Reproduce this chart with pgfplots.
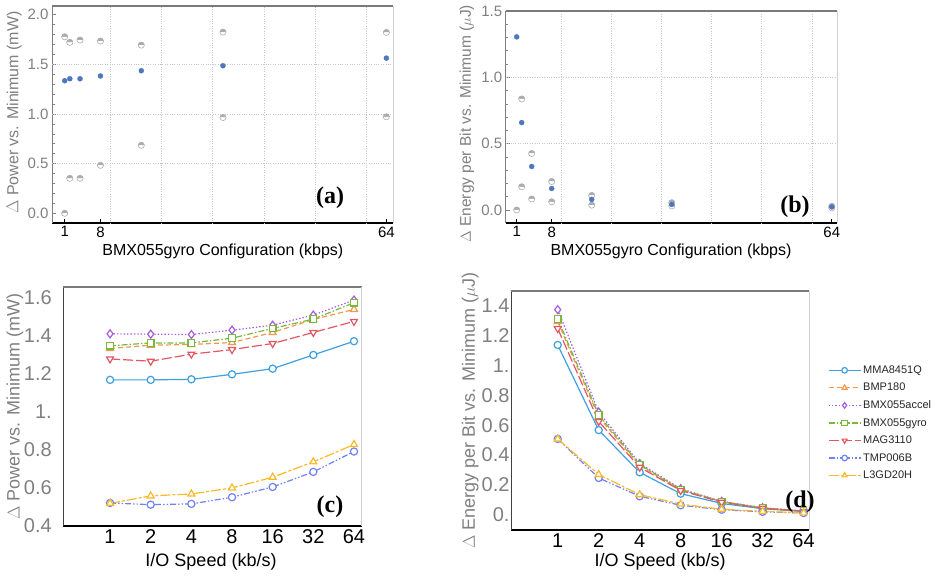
\documentclass[border=0pt]{standalone}
\usepackage{pgfplots}
\pgfplotsset{compat=1.18}
\usepackage{pgfplotstable}
\usepackage{fontspec}
\setmainfont{Liberation Sans}
\newfontfamily\tnr{Liberation Serif}
\usetikzlibrary{plotmarks}

\definecolor{cA}{RGB}{62,160,222}
\definecolor{cB}{RGB}{242,152,78}
\definecolor{cC}{RGB}{168,92,224}
\definecolor{cD}{RGB}{122,184,58}
\definecolor{cE}{RGB}{226,88,98}
\definecolor{cF}{RGB}{112,128,245}
\definecolor{cG}{RGB}{250,186,40}
\definecolor{dotblue}{RGB}{78,120,190}
\definecolor{ticgray}{RGB}{128,128,128}
\definecolor{ptgray}{RGB}{172,172,172}

% panel (c): power vs I/O speed
\pgfplotstableread{
x  mma   bmp   acc   gyr   mag   tmp   l3g
1  1.167 1.332 1.409 1.346 1.277 0.521 0.519
2  1.167 1.349 1.407 1.361 1.265 0.512 0.558
4  1.170 1.353 1.405 1.361 1.302 0.516 0.568
8  1.196 1.363 1.428 1.386 1.326 0.551 0.600
16 1.226 1.416 1.454 1.437 1.358 0.605 0.656
32 1.298 1.484 1.507 1.486 1.416 0.684 0.737
64 1.370 1.537 1.586 1.572 1.474 0.791 0.828
}\powertab

% panel (d): energy per bit vs I/O speed
\pgfplotstableread{
x  mma   bmp   acc   gyr   mag   tmp   l3g
1  1.138 1.295 1.375 1.313 1.248 0.508 0.508
2  0.567 0.655 0.688 0.668 0.625 0.246 0.269
4  0.284 0.330 0.343 0.336 0.318 0.123 0.134
8  0.141 0.166 0.174 0.169 0.162 0.063 0.071
16 0.075 0.086 0.089 0.088 0.083 0.033 0.036
32 0.040 0.045 0.046 0.045 0.043 0.019 0.022
64 0.021 0.023 0.024 0.024 0.022 0.011 0.012
}\energytab

\pgfplotsset{
  panel/.style={
    scale only axis, anchor=south west,
    axis x line*=bottom, axis y line*=left,
    x axis line style={black, line width=1.6pt, -},
    yticklabel style={ticgray},
    xticklabel style={black},
    xlabel style={black, anchor=center},
    ylabel style={ticgray, anchor=center},
    extra description/.code={
      \draw[black!52, line width=2pt] (0,1) -- (1,1);
      \draw[black!18, line width=0.8pt] (1,0) -- (1,1);
    },
    /pgf/number format/assume math mode=true,
  },
  toppanel/.style={
    panel,
    y axis line style={ticgray, line width=0.8pt, -},
    tick align=inside,
    xtick style={black, line width=0.8pt},
    ytick style={ticgray, line width=0.6pt},
    major tick length=4pt, minor tick length=2.5pt,
    minor y tick num=4,
    xtick={1,8,64},
    extra x ticks={10,20,30,40,50,60},
    extra x tick labels={},
    extra tick style={grid=major, major tick length=0pt},
    grid style={black!22, dotted, line width=0.6pt},
    ticklabel style={font=\fontsize{15}{18}\selectfont},
    label style={font=\fontsize{16}{19}\selectfont},
    xlabel={BMX055gyro Configuration (kbps)},
  },
  botpanel/.style={
    panel,
    y axis line style={black!75, line width=0.8pt, -},
    major tick length=0pt,
    xtick={1,2,4,8,16,32,64},
    xticklabels={1,2,4,8,16,32,64},
    ticklabel style={font=\fontsize{20}{23}\selectfont},
    label style={font=\fontsize{18}{21}\selectfont},
    xlabel={I/O Speed (kb/s)},
  },
  legend image code/.code={\draw[#1, mark size=2.8pt, mark repeat=2, mark phase=2]
    plot coordinates {(0pt,0pt) (16pt,0pt) (32pt,0pt)};},
  blue dots/.style={dotblue, only marks, mark=*, mark size=2.5pt, mark options={draw=dotblue, fill=dotblue}},
  grey dots/.style={ptgray, only marks, mark=halfcircle*, mark size=3.1pt,
    mark options={draw=ptgray, fill=ptgray, mark color=white, line width=0.6pt}},
  sA/.style={cA, line width=1.2pt, solid, mark=*, mark size=3.6pt, mark options={solid, fill=white}},
  sB/.style={cB, line width=1.2pt, dash pattern=on 5pt off 3pt, mark=triangle*, mark size=4pt, mark options={solid, fill=white}},
  sC/.style={cC, line width=1.2pt, dash pattern=on 1.4pt off 2pt, mark=diamond*, mark size=4pt, mark options={solid, fill=white}},
  sD/.style={cD, line width=1.2pt, dash pattern=on 6pt off 2pt on 1.5pt off 2pt, mark=square*, mark size=3.3pt, mark options={solid, fill=white}},
  sE/.style={cE, line width=1.2pt, dash pattern=on 10pt off 3pt, mark=triangle*, mark size=4pt, mark options={solid, fill=white, rotate=180}},
  sF/.style={cF, line width=1.2pt, dash pattern=on 6pt off 2pt on 1.5pt off 2pt on 1.5pt off 2pt, mark=*, mark size=3.6pt, mark options={solid, fill=white}},
  sG/.style={cG, line width=1.2pt, dash pattern=on 10pt off 2pt on 3pt off 2pt, mark=triangle*, mark size=4pt, mark options={solid, fill=white}},
}

\begin{document}
\begin{tikzpicture}
\useasboundingbox (0pt,0pt) rectangle (939pt,-577pt);

% (a)
\begin{axis}[toppanel,
  at={(52pt,-223pt)}, width=341pt, height=217pt,
  xmin=-1.49, xmax=65.3, ymin=-0.098, ymax=2.088,
  ytick={0,0.5,1,1.5,2}, yticklabels={0.0,0.5,1.0,1.5,2.0},
  extra y ticks={0.5,1,1.5}, extra y tick labels={},
  ylabel={$\Delta$ Power vs. Minimum (mW)},
  xlabel style={at={(axis description cs:0.501,-0.129)}},
  ylabel style={at={(axis description cs:-0.111,0.509)}},
]
\addplot[grey dots] coordinates {(1,1.778)(2,1.722)(4,1.745)(8,1.735)(16,1.694)(32,1.825)(64,1.822)};
\addplot[grey dots] coordinates {(1,0.0)(2,0.352)(4,0.352)(8,0.483)(16,0.685)(32,0.965)(64,0.972)};
\addplot[blue dots] coordinates {(1,1.335)(2,1.355)(4,1.355)(8,1.383)(16,1.436)(32,1.486)(64,1.563)};
\end{axis}

% (b)
\begin{axis}[toppanel,
  at={(505.7pt,-223pt)}, width=331.6pt, height=212pt,
  xmin=-1.2, xmax=65.1, ymin=-0.098, ymax=1.5,
  ytick={0,0.5,1,1.5}, yticklabels={0.0,0.5,1.0,1.5},
  extra y ticks={0.5,1}, extra y tick labels={},
  ylabel={$\Delta$ Energy per Bit vs. Minimum ($\mu$J)},
  xlabel style={at={(axis description cs:0.4985,-0.132)}},
  ylabel style={at={(axis description cs:-0.117,0.468)}, font=\fontsize{15.5}{18}\selectfont},
]
\addplot[grey dots] coordinates {(2,0.837)(4,0.426)(8,0.215)(16,0.11)(32,0.055)(64,0.028)};
\addplot[grey dots] coordinates {(1,0.0)(2,0.175)(4,0.083)(8,0.062)(16,0.037)(32,0.03)(64,0.015)};
\addplot[blue dots] coordinates {(1,1.305)(2,0.659)(4,0.328)(8,0.162)(16,0.080)(32,0.042)(64,0.023)};
\end{axis}

% (c)
\begin{axis}[botpanel, xmode=log, log basis x=2,
  at={(63.3pt,-526pt)}, width=298.4pt, height=238.7pt,
  xmin=0.4506, xmax=73.0, ymin=0.4, ymax=1.653,
  ytick={0.4,0.6,0.8,1,1.2,1.4,1.6},
  yticklabels={0.4,0.6,0.8,1.,1.2,1.4,1.6},
  yticklabel style={xshift=-8pt},
  ylabel={$\Delta$ Power vs. Minimum (mW)},
  xlabel style={at={(axis description cs:0.495,-0.151)}},
  ylabel style={at={(axis description cs:-0.162,0.5)}},
]
\addplot[sA] table[x=x, y=mma] {\powertab};
\addplot[sB] table[x=x, y=bmp] {\powertab};
\addplot[sC] table[x=x, y=acc] {\powertab};
\addplot[sD] table[x=x, y=gyr] {\powertab};
\addplot[sE] table[x=x, y=mag] {\powertab};
\addplot[sF] table[x=x, y=tmp] {\powertab};
\addplot[sG] table[x=x, y=l3g] {\powertab};
\end{axis}

% (d)
\begin{axis}[botpanel, xmode=log, log basis x=2,
  at={(511pt,-530pt)}, width=298.3pt, height=239pt,
  xmin=0.4538, xmax=70.5, ymin=-0.103, ymax=1.5,
  ytick={0,0.2,0.4,0.6,0.8,1,1.2,1.4},
  yticklabels={0.,0.2,0.4,0.6,0.8,1.,1.2,1.4},
  yticklabel style={xshift=2pt},
  ylabel={$\Delta$ Energy per Bit vs. Minimum ($\mu$J)},
  xlabel style={at={(axis description cs:0.5,-0.134)}},
  ylabel style={at={(axis description cs:-0.137,0.5)}},
  legend style={at={(axis description cs:1.052,0.705)}, anchor=north west,
    draw=none, fill=none, font=\fontsize{11}{13}\selectfont, text=black!85,
    row sep=4.3pt},
  legend cell align=left,
]
\addplot[sA] table[x=x, y=mma] {\energytab};
\addplot[sB] table[x=x, y=bmp] {\energytab};
\addplot[sC] table[x=x, y=acc] {\energytab};
\addplot[sD] table[x=x, y=gyr] {\energytab};
\addplot[sE] table[x=x, y=mag] {\energytab};
\addplot[sF] table[x=x, y=tmp] {\energytab};
\addplot[sG] table[x=x, y=l3g] {\energytab};
\legend{MMA8451Q,BMP180,BMX055accel,BMX055gyro,MAG3110,TMP006B,L3GD20H}
\end{axis}

\node[font=\tnr\bfseries\fontsize{24}{28}\selectfont] at (330pt,-198pt) {(a)};
\node[font=\tnr\bfseries\fontsize{24}{28}\selectfont] at (795pt,-207pt) {(b)};
\node[font=\tnr\bfseries\fontsize{24}{28}\selectfont] at (330pt,-506.7pt) {(c)};
\node[font=\tnr\bfseries\fontsize{24}{28}\selectfont] at (800pt,-501.7pt) {(d)};
\end{tikzpicture}
\end{document}
